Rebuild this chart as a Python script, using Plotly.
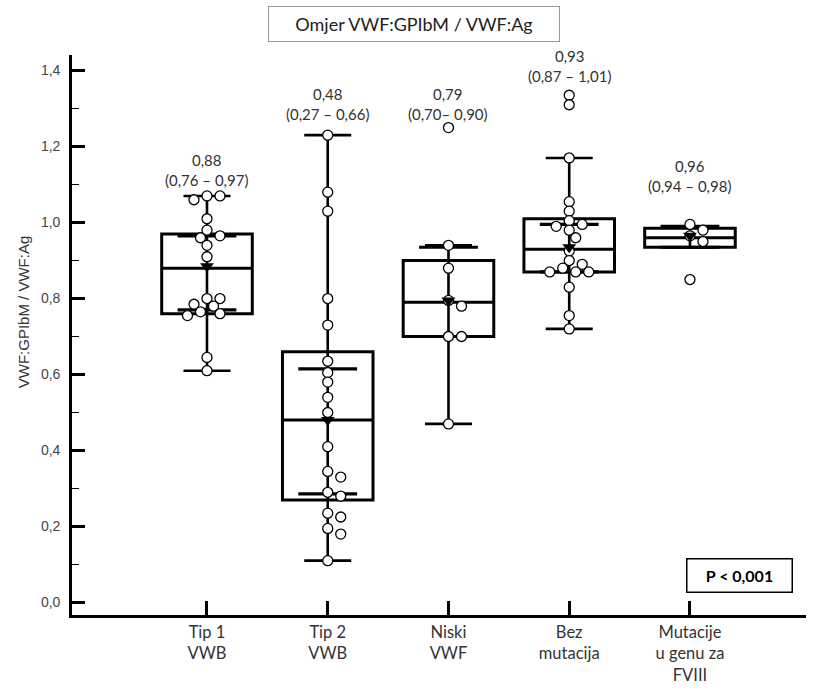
import plotly.graph_objects as go

# ---------------- data ----------------
categories = ["Tip 1<br>VWB", "Tip 2<br>VWB", "Niski<br>VWF", "Bez<br>mutacija",
              "Mutacije<br>u genu za<br>FVIII"]

tip1 = [1.07, 1.07, 1.06, 1.01, 0.98, 0.965, 0.96, 0.94, 0.91, 0.80, 0.80,
        0.785, 0.78, 0.765, 0.76, 0.755, 0.645, 0.61]
tip2 = [1.23, 1.08, 1.03, 0.80, 0.73, 0.635, 0.605, 0.58, 0.54, 0.50, 0.41,
        0.345, 0.33, 0.29, 0.28, 0.235, 0.225, 0.195, 0.18, 0.11]
niski = [1.25, 0.94, 0.88, 0.795, 0.78, 0.70, 0.70, 0.47]
bez = [1.335, 1.31, 1.17, 1.055, 1.03, 1.005, 0.995, 0.99, 0.98, 0.96, 0.925,
       0.90, 0.89, 0.88, 0.87, 0.87, 0.87, 0.83, 0.755, 0.72]
mutacije = [0.995, 0.98, 0.965, 0.95, 0.85]
groups = [tip1, tip2, niski, bez, mutacije]

medians = [0.88, 0.48, 0.79, 0.93, 0.96]
q1 = [0.76, 0.27, 0.70, 0.87, 0.935]
q3 = [0.97, 0.66, 0.90, 1.01, 0.985]
whisk_lo = [0.61, 0.11, 0.47, 0.72, 0.935]
whisk_hi = [1.07, 1.23, 0.94, 1.17, 0.99]
means = [0.885, 0.48, 0.795, 0.935, 0.965]
bar_lo = [0.77, 0.286, 0.70, 0.87, 0.935]
bar_hi = [0.965, 0.615, 0.935, 0.995, 0.99]

median_labels = ["0,88<br>(0,76 – 0,97)", "0,48<br>(0,27 – 0,66)", "0,79<br>(0,70– 0,90)",
                 "0,93<br>(0,87 – 1,01)", "0,96<br>(0,94 – 0,98)"]
label_y = [1.139, 1.313, 1.313, 1.412, 1.123]

y_ticks = [0.0, 0.2, 0.4, 0.6, 0.8, 1.0, 1.2, 1.4]
title_text = "Omjer VWF:GPIbM / VWF:Ag"
y_title = "VWF:GPIbM / VWF:Ag"
p_text = "<b>P &lt; 0,001</b>"

# ---------------- layout geometry ----------------
W, H = 816, 695
ML, MR, MT, MB = 72, 10, 55, 74
XR = [-1.118, 4.961]
YR = [-0.033, 1.441]
plot_w = W - ML - MR
plot_h = H - MT - MB
px_per_x = plot_w / (XR[1] - XR[0])
px_per_y = plot_h / (YR[1] - YR[0])

xpos = list(range(len(categories)))


def swarm(vals, step=6.5, mind=9.0):
    placed, offs = [], []
    for v in vals:
        yp = v * px_per_y
        dx = 0.0
        for k in [0, 1, -1, 2, -2, 3, -3, 4, -4]:
            dx = k * step
            if all((dx - a) ** 2 + (yp - b) ** 2 >= mind ** 2 for a, b in placed):
                break
        placed.append((dx, yp))
        offs.append(dx)
    return offs


fig = go.Figure()

# boxes (whiskers drawn separately)
fig.add_trace(go.Box(
    x=xpos, q1=q1, median=medians, q3=q3, lowerfence=q1, upperfence=q3,
    width=0.75, whiskerwidth=0, fillcolor="rgba(0,0,0,0)",
    line=dict(color="black", width=3), boxpoints=False, hoverinfo="skip",
    showlegend=False,
))

# whisker line through the box, with caps
fig.add_trace(go.Scatter(
    x=xpos, y=medians, mode="markers",
    marker=dict(size=1, color="rgba(0,0,0,0)"),
    error_y=dict(type="data", symmetric=False,
                 array=[h - m for h, m in zip(whisk_hi, medians)],
                 arrayminus=[m - l for m, l in zip(medians, whisk_lo)],
                 color="black", thickness=2.6, width=23.5),
    showlegend=False, hoverinfo="skip",
))

# short interval bars
fig.add_trace(go.Scatter(
    x=xpos + xpos, y=bar_lo + bar_hi, mode="markers",
    marker=dict(symbol="line-ew", size=42, line=dict(color="black", width=3.2)),
    showlegend=False, hoverinfo="skip",
))

# individual points
for i, vals in enumerate(groups):
    offs = swarm(vals)
    fig.add_trace(go.Scatter(
        x=[i + o / px_per_x for o in offs], y=vals, mode="markers",
        marker=dict(symbol="circle", size=10, color="white",
                    line=dict(color="black", width=1.3)),
        showlegend=False, hoverinfo="skip",
    ))

# means
fig.add_trace(go.Scatter(
    x=xpos, y=means, mode="markers",
    marker=dict(symbol="triangle-down", size=12, color="black"),
    showlegend=False, hoverinfo="skip",
))

annotations = []
for i, (t, yy) in enumerate(zip(median_labels, label_y)):
    annotations.append(dict(x=i, y=yy, xref="x", yref="y", text=t, showarrow=False,
                            font=dict(family="Lato", size=15, color="#333"),
                            xanchor="center", yanchor="middle"))

annotations.append(dict(
    x=(414 - ML) / plot_w, y=1 + (MT - 24) / plot_h, xref="paper", yref="paper",
    text=title_text, showarrow=False, font=dict(family="Lato", size=18, color="#222"),
    bordercolor="#999", borderwidth=1, borderpad=2, width=286, height=30,
    xanchor="center", yanchor="middle"))

annotations.append(dict(
    x=(739 - ML) / plot_w, y=(H - MB - 581) / plot_h, xref="paper", yref="paper",
    text=p_text, showarrow=False, font=dict(family="Lato", size=16, color="black"),
    bordercolor="black", borderwidth=1.5, borderpad=2, width=100, height=28,
    xanchor="center", yanchor="middle"))

annotations.append(dict(
    x=(23 - ML) / plot_w, y=(H - MB - 315) / plot_h, xref="paper", yref="paper",
    text=y_title, showarrow=False, textangle=-90,
    font=dict(family="Liberation Sans", size=15, color="#333"),
    xanchor="center", yanchor="middle"))

fig.update_layout(
    width=W, height=H, margin=dict(l=ML, r=MR, t=MT, b=MB),
    paper_bgcolor="white", plot_bgcolor="white", separators=", ",
    annotations=annotations,
    xaxis=dict(range=XR, tickvals=xpos, ticktext=categories, showgrid=False,
               zeroline=False, showline=True, linecolor="black", linewidth=2.6,
               ticks="inside", ticklen=14, tickwidth=2.6, tickcolor="black",
               tickfont=dict(family="Lato", size=16.5, color="#333")),
    yaxis=dict(range=YR, tickvals=y_ticks, tickformat=".1f", showgrid=False,
               zeroline=False, showline=True, linecolor="black", linewidth=2.6,
               ticks="inside", ticklen=13, tickwidth=2.6, tickcolor="black",
               ticklabelstandoff=6,
               minor=dict(dtick=0.1, tick0=0, ticks="inside", ticklen=7, tickwidth=1.2,
                          tickcolor="black"),
               tickfont=dict(family="Liberation Sans", size=14, color="#444")),
)

fig.write_html("out.html", config={"displayModeBar": False},
               post_script="document.body.style.margin='0px';")
